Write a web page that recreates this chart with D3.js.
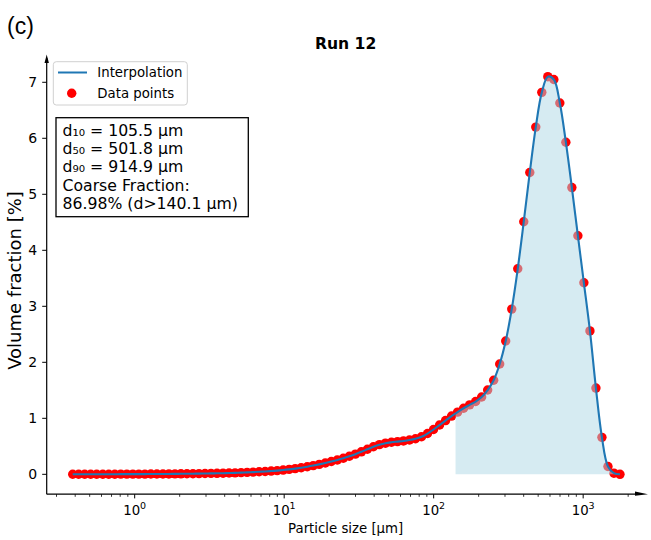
<!DOCTYPE html>
<html><head><meta charset="utf-8">
<script src="https://cdn.jsdelivr.net/npm/d3@7"></script>
<style>body{margin:0;background:#fff} svg{display:block} text{font-family:"DejaVu Sans",sans-serif;fill:#000}</style>
</head><body><svg id="c" width="651" height="540"></svg>
<script>
// Particle size bins [µm]
const sizes = [0.385,0.422,0.463,0.508,0.557,0.612,0.671,0.736,0.807,0.886,
  0.972,1.066,1.170,1.283,1.408,1.545,1.694,1.859,2.039,2.237,
  2.454,2.693,2.954,3.241,3.555,3.901,4.279,4.694,5.150,5.649,
  6.198,6.800,7.460,8.184,8.978,9.849,10.80,11.85,13.00,14.27,
  15.65,17.17,18.84,20.67,22.67,24.87,27.29,29.94,32.84,36.03,
  39.53,43.36,47.57,52.19,57.26,62.81,68.91,75.60,82.94,90.99,
  99.8,109.5,120.1,131.8,144.5,158.6,174.0,190.9,209.4,229.7,
  252.0,276.5,303.3,332.8,365.1,400.5,439.4,482.0,528.8,580.1,
  636.4,698.2,766.0,840.3,921.8,1011,1110,1217,1335,1465,
  1607,1763];
// Volume fraction [%]
const volume = [0.001,0.001,0.001,0.001,0.002,0.002,0.002,0.002,0.003,0.003,
  0.003,0.004,0.004,0.005,0.005,0.006,0.007,0.008,0.009,0.010,
  0.011,0.013,0.014,0.016,0.018,0.020,0.023,0.026,0.030,0.034,
  0.040,0.045,0.051,0.058,0.066,0.076,0.088,0.102,0.118,0.136,
  0.156,0.178,0.202,0.228,0.256,0.287,0.322,0.360,0.402,0.447,
  0.492,0.530,0.556,0.572,0.584,0.596,0.612,0.635,0.670,0.728,
  0.800,0.880,0.960,1.040,1.110,1.180,1.240,1.300,1.380,1.505,
  1.680,1.970,2.380,2.950,3.670,4.510,5.390,6.200,6.820,7.100,
  7.050,6.630,5.930,5.120,4.260,3.420,2.560,1.540,0.660,0.140,
  0.020,0.000];
const yTicks = [0,1,2,3,4,5,6,7];
const xTicks = [1,10,100,1000];
const xTickExp = ["0","1","2","3"];
const legendLabels = ["Interpolation","Data points"];
const statLines = ["d\u2081\u2080 = 105.5 \u00b5m","d\u2085\u2080 = 501.8 \u00b5m","d\u2089\u2080 = 914.9 \u00b5m","Coarse Fraction:","86.98% (d>140.1 \u00b5m)"];
const coarseCut = 140.1;
const titleText = "Run 12";
const panelLabel = "(c)";
const xLabel = "Particle size [\u00b5m]";
const yLabel = "Volume fraction [%]";

const svg = d3.select("#c");
const L = 46.7, R = 646.7, T = 56.8, B = 494.2;
const x = d3.scaleLog().domain([Math.pow(10,-0.5885), Math.pow(10,3.4250)]).range([L, R]);
const y = d3.scaleLinear().domain([-0.355, 7.455]).range([B, T]);
const data = sizes.map((s,i)=>({s, v: volume[i]}));
const blue = "#1f77b4";

// points
svg.append("g").selectAll("circle").data(data).join("circle")
  .attr("cx", d=>x(d.s)).attr("cy", d=>y(d.v)).attr("r", 4.7).attr("fill", "red");

// fill d > coarseCut (on top of points, semi-transparent)
let k = sizes.findIndex(s=>s>coarseCut);
const t = (Math.log(coarseCut)-Math.log(sizes[k-1]))/(Math.log(sizes[k])-Math.log(sizes[k-1]));
const v0 = volume[k-1] + t*(volume[k]-volume[k-1]);
const fillData = [{s: coarseCut, v: v0}].concat(data.slice(k));
const area = d3.area().x(d=>x(d.s)).y0(y(0)).y1(d=>y(Math.max(0,d.v))).curve(d3.curveCatmullRom.alpha(0.5));
svg.append("path").datum(fillData).attr("d", area).attr("fill", "lightblue").attr("fill-opacity", 0.5);

// interpolation line
const line = d3.line().x(d=>x(d.s)).y(d=>y(d.v)).curve(d3.curveCatmullRom.alpha(0.5));
svg.append("path").datum(data).attr("d", line).attr("fill","none").attr("stroke", blue).attr("stroke-width", 2.1);

// axes spines
const ax = svg.append("g");
ax.append("line").attr("x1", L).attr("x2", L).attr("y1", B).attr("y2", 58).attr("stroke","#000").attr("stroke-width",1.2);
ax.append("line").attr("x1", L).attr("x2", 640).attr("y1", B).attr("y2", B).attr("stroke","#000").attr("stroke-width",1.2);
ax.append("path").attr("d", `M${L},54.5 L${L-2.2},63 L${L+2.2},63 Z`).attr("fill","#000");
ax.append("path").attr("d", `M648,${B} L635,${B-2.6} L635,${B+1.6} Z`).attr("fill","#000");

// y ticks
yTicks.forEach(v=>{
  ax.append("line").attr("x1", L-4.5).attr("x2", L).attr("y1", y(v)).attr("y2", y(v)).attr("stroke","#000").attr("stroke-width",1);
  ax.append("text").attr("x", L-9.5).attr("y", y(v)).attr("dy","0.36em").attr("text-anchor","end").attr("font-size",14).text(v);
});
// x ticks major
xTicks.forEach((v,i)=>{
  ax.append("line").attr("x1", x(v)).attr("x2", x(v)).attr("y1", B).attr("y2", B+4.2).attr("stroke","#000").attr("stroke-width",1);
  const tx = ax.append("text").attr("x", x(v)).attr("y", B+21).attr("text-anchor","middle").attr("font-size",13.3);
  tx.append("tspan").text("10");
  tx.append("tspan").attr("font-size",9.5).attr("dy",-6).text(xTickExp[i]);
});
// x minor ticks
const [d0,d1] = x.domain();
for (let e=-1; e<=3; e++) for (let m=2; m<=9; m++){
  const v = m*Math.pow(10,e);
  if (v>=d0 && v<=d1) ax.append("line").attr("x1", x(v)).attr("x2", x(v)).attr("y1", B).attr("y2", B+2.6).attr("stroke","#000").attr("stroke-width",0.8);
}

// labels
svg.append("text").attr("x", (L+644.6)/2).attr("y", 533).attr("text-anchor","middle").attr("font-size",13.3).text(xLabel);
svg.append("text").attr("transform", `translate(21,${(T+B)/2+5}) rotate(-90)`).attr("text-anchor","middle").attr("font-size",18).text(yLabel);
svg.append("text").attr("x", (L+644.6)/2).attr("y", 48.5).attr("text-anchor","middle").attr("font-size",15.6).attr("font-weight","bold").text(titleText);
svg.append("text").attr("x", 7).attr("y", 34).attr("font-size",23).style("font-family","'Liberation Sans',Arial,sans-serif").text(panelLabel);

// legend
const lg = svg.append("g");
lg.append("rect").attr("x",53.3).attr("y",61.7).attr("width",134).attr("height",43.3).attr("rx",3)
  .attr("fill","#fff").attr("fill-opacity",0.8).attr("stroke","#d0d0d0").attr("stroke-width",1);
lg.append("line").attr("x1",58).attr("x2",87).attr("y1",72.5).attr("y2",72.5).attr("stroke",blue).attr("stroke-width",2);
lg.append("circle").attr("cx",71.7).attr("cy",93.3).attr("r",4.7).attr("fill","red");
legendLabels.forEach((s,i)=>{
  lg.append("text").attr("x",97.3).attr("y",72.5+i*20.8).attr("dy","0.36em").attr("font-size",13.3).text(s);
});

// stats box
const sb = svg.append("g");
sb.append("rect").attr("x",56).attr("y",117.7).attr("width",192.3).attr("height",99).attr("fill","#fff").attr("stroke","#000").attr("stroke-width",1.3);
statLines.forEach((s,i)=>{
  sb.append("text").attr("x",62.5).attr("y",130+i*18.3).attr("dy","0.36em").attr("font-size",15.7).text(s);
});
</script></body></html>
